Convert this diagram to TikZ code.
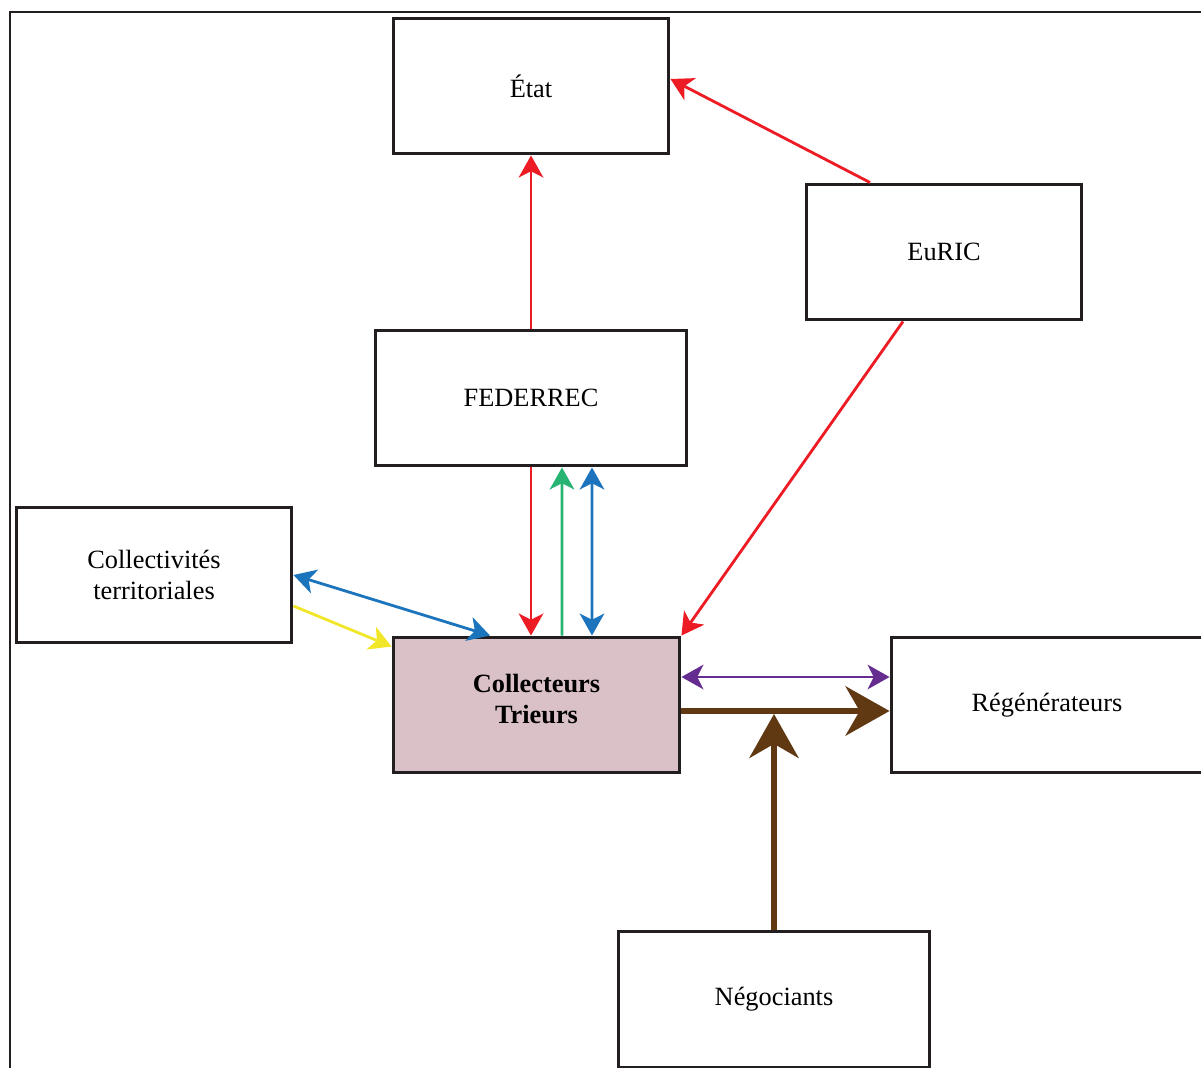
\documentclass[tikz,border=0pt]{standalone}
\usepackage{fontspec}
\setmainfont{Liberation Serif}
\usetikzlibrary{arrows.meta, positioning}
\definecolor{boxline}{HTML}{231F20}
\definecolor{collfill}{HTML}{D9C1C7}
\definecolor{flowred}{HTML}{ED1C24}
\definecolor{flowgreen}{HTML}{27B473}
\definecolor{flowblue}{HTML}{1C75BC}
\definecolor{flowyellow}{HTML}{F2E62A}
\definecolor{flowpurple}{HTML}{662D91}
\definecolor{flowbrown}{HTML}{603913}

\begin{document}
\begin{tikzpicture}[
    x=0.02cm, y=-0.02cm,
    >={Stealth[length=12.5pt, width=14pt, inset=3.5pt]},
    box/.style={draw=boxline, line width=1.7pt, fill=white, minimum width=5.52cm, minimum height=2.72cm, inner sep=0pt, align=center, font=\fontsize{15}{18}\selectfont},
    widebox/.style={box, minimum width=6.24cm},
    link/.style={->, line width=1.6pt, color=#1},
    heavy/.style={line width=3.6pt, color=flowbrown, -{Stealth[length=25pt, width=28pt, inset=8pt]}},
]
\useasboundingbox (0,0) rectangle (1201,1068);
\clip (0,0) rectangle (1201,1068);

% Frame
\draw[boxline, line width=1.2pt] (10,12) rectangle (1240,1100);

% Boxes
\node[box] (etat) at (531,86) {État};
\node[box] (euric) at (944,252) {EuRIC};
\node[widebox] (fed) at (531,398) {FEDERREC};
\node[box] (colter) at (154,575) {Collectivités\\territoriales};
\node[box, fill=collfill, minimum width=5.74cm, text depth=7pt, font=\fontsize{15}{18}\selectfont\bfseries] (coll) at (536.5,705) {Collecteurs\\Trieurs};
\node[widebox] (regen) at (1047,705) {Régénérateurs};
\node[widebox] (neg) at (774,999) {Négociants};
\coordinate (join) at (774,714);

% Arrows
\draw[link=flowred] (fed.north) -- (etat.south);
\draw[link=flowred] ([xshift=-1.48cm]euric.north) -- ([yshift=0.14cm]etat.east);
\draw[link=flowred] ([xshift=-0.82cm]euric.south) -- (coll.north east);
\draw[link=flowred] (fed.south) -- (fed.south |- coll.north);
\draw[link=flowgreen] ([xshift=0.51cm]coll.north) -- ([xshift=0.62cm]fed.south);
\draw[link=flowblue, <->] ([xshift=1.22cm]fed.south) -- ([xshift=1.11cm]coll.north);
\draw[link=flowblue, <->] (colter.east) -- ([xshift=-0.93cm]coll.north);
\draw[link=flowyellow] ([yshift=-0.62cm]colter.east) -- ([yshift=-0.22cm]coll.north west);
\draw[link=flowpurple, <->] ([yshift=0.56cm]coll.east) -- ([yshift=0.56cm]regen.west);
\draw[heavy] ([yshift=-0.12cm]coll.east) -- ([yshift=-0.12cm]regen.west);
\draw[heavy] (neg.north) -- (join);

\end{tikzpicture}
\end{document}
